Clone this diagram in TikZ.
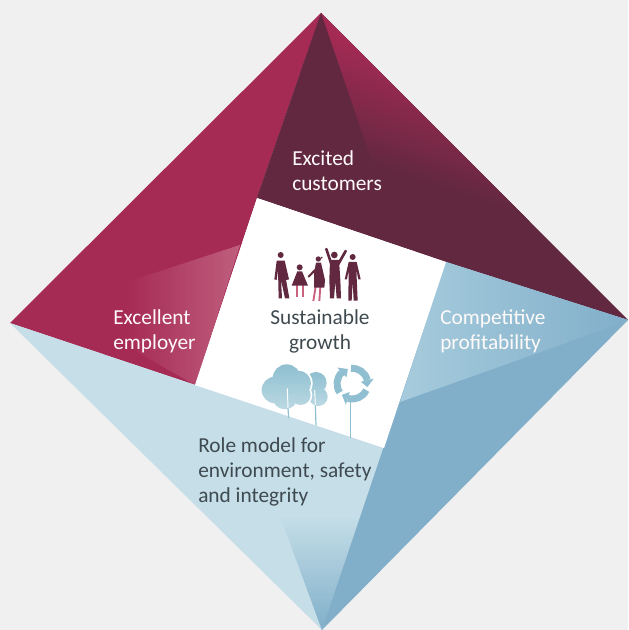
\documentclass[tikz,border=0pt]{standalone}
\usepackage{fontspec}
\setmainfont{Carlito}
\definecolor{bgc}{HTML}{F0F0F0}
\definecolor{redc}{HTML}{A52A54}
\definecolor{plum}{HTML}{622840}
\definecolor{pinkc}{HTML}{C05F7E}
\definecolor{legc}{HTML}{C9637F}
\definecolor{bluec}{HTML}{81AFCA}
\definecolor{lblue}{HTML}{C5DEE8}
\definecolor{midb}{HTML}{A6CBDC}
\definecolor{iconb}{HTML}{8FBFD0}
\definecolor{iconl}{HTML}{BBD9E3}
\definecolor{txtd}{HTML}{3F4A50}
\tikzset{
  lab/.style={font=\fontsize{16}{18.9}\selectfont,align=left,inner sep=0pt},
  labw/.style={lab,text=white!92!pink},
  person/.style={fill=plum,draw=none},
  legpink/.style={draw=legc,line width=1.4pt},
  arm/.style={draw=plum,line width=1.5pt,line cap=round},
  treef/.style={top color=iconb,bottom color=iconl,draw=none},
  stem/.style={draw=iconb,line width=.9pt},
  cycleseg/.style={draw=iconb,line width=5.2pt},
  cyct/.style={fill=iconb,draw=none}
}
\begin{document}
\begin{tikzpicture}[x=0.75pt,y=-0.75pt]
\useasboundingbox (0,0) rectangle (628,630);
\fill[bgc] (0,0) rectangle (628,630);
\coordinate (T) at (321,13);
\coordinate (L) at (10,323);
\coordinate (R) at (628,320);
\coordinate (B) at (322,630);
\coordinate (TL) at (257,198);
\coordinate (TR) at (446,262);
\coordinate (BR) at (384,448);
\coordinate (BL) at (195,385);
% red
\fill[redc] (T) -- (TL) -- (BL) -- (L) -- cycle;
\begin{scope}
  \clip (240,245) -- (BL) -- (125,345) -- (124,283) -- cycle;
  \foreach \i in {0,...,39}{
    \pgfmathsetmacro{\mix}{\i*100/39}
    \pgfmathsetmacro{\xa}{124+\i*3}
    \fill[pinkc!\mix!redc] (\xa,230) rectangle (\xa+5,400);
  }
\end{scope}
% plum
\fill[plum] (T) -- (R) -- (TR) -- (TL) -- cycle;
\begin{scope}
  \clip (T) -- (R) -- (TR) -- (TL) -- cycle;
  \fill[redc] (300,0) -- (640,0) -- (640,135) -- (300,23) -- cycle;
  \foreach \i in {0,...,40}{
    \pgfmathsetmacro{\mix}{100-\i*100/40}
    \pgfmathsetmacro{\ya}{\i*3+28}
    \fill[redc!\mix!plum] (300,\ya-7) -- (640,\ya+105) -- (640,\ya+110) -- (300,\ya-2) -- cycle;
  }
\end{scope}
\fill[plum] (T) -- (368,150) -- (382,215) -- (TL) -- cycle;
% light blue
\fill[lblue] (L) -- (BR) -- (B) -- cycle;
\begin{scope}
  \clip (B) -- (278,510) -- (372,500) -- cycle;
  \foreach \i in {0,...,38}{
    \pgfmathsetmacro{\mix}{\i*100/38}
    \pgfmathsetmacro{\ya}{515+\i*3}
    \fill[bluec!\mix!lblue] (270,\ya) rectangle (380,\ya+5);
  }
\end{scope}
% blue
\fill[bluec] (R) -- (TR) -- (B) -- cycle;
\shade[left color=midb,right color=bluec] (TR) -- (R) -- (552,348) -- (400,402) -- cycle;
% white
\fill[white] (TL) -- (TR) -- (BR) -- (BL) -- cycle;
% icons in zoom coordinates
\begin{scope}[shift={(190,190)},x=0.25pt,y=-0.25pt]
  % person 1
  \fill[person] (272,195) circle (9);
  \fill[person] (260,212) -- (284,212) -- (297,268) -- (289,270) -- (283,240) -- (298,325) -- (285,325) -- (273,270) -- (276,325) -- (266,325) -- (264,240) -- (260,270) -- (253,268) -- cycle;
  % child
  \fill[person] (329,232) circle (9);
  \draw[legpink] (321,285) -- (321,322);
  \draw[legpink] (338,285) -- (338,322);
  \fill[person] (322,244) -- (336,244) -- (354,287) -- (305,287) -- cycle;
  % woman
  \fill[person] (385,207) circle (8);
  \fill[person] (395,203) circle (3);
  \draw[legpink] (377,290) -- (370,333);
  \draw[legpink] (391,290) -- (388,333);
  \fill[person] (378,218) -- (393,218) -- (405,270) -- (403,293) -- (372,293) -- (372,250) -- cycle;
  \draw[arm] (375,240) -- (356,260);
  % raised arms
  \fill[person] (433,195) circle (10);
  \draw[arm,line width=2pt] (424,222) -- (409,177);
  \draw[arm,line width=2pt] (445,222) -- (467,183);
  \fill[person] (420,210) -- (447,210) -- (451,270) -- (453,325) -- (440,325) -- (436,275) -- (432,325) -- (420,325) -- (418,270) -- cycle;
  % person 5
  \fill[person] (488,201) circle (9);
  \fill[person] (476,216) -- (500,216) -- (512,268) -- (505,268) -- (499,240) -- (503,332) -- (491,332) -- (488,275) -- (485,332) -- (475,332) -- (476,240) -- (471,268) -- (464,268) -- cycle;
  % trees
  \shade[treef] (378,578) circle (32) (385,620) circle (28) (360,615) circle (20);
  \fill[white] (255,600) circle (45) (290,565) circle (47) (325,580) circle (43) (332,615) circle (35) (285,620) circle (43);
  \shade[treef] (255,600) circle (40) (290,565) circle (42) (325,580) circle (38) (332,615) circle (30) (285,620) circle (38);
  \draw[draw=white,line width=.7pt] (292,595) -- (294,655);
  \draw[draw=white,line width=.7pt] (374,600) -- (376,645);
  \draw[stem] (294,655) -- (296,684);
  \draw[stem] (376,645) -- (378,706);
  \draw[stem] (481,625) -- (481,745);
  % recycle
  \foreach \a in {-95,25,145}{
    \draw[cycleseg] ([shift={(487,581)}]\a:46) arc (\a:\a+82:46);
    \fill[cyct] ([shift={(487,581)}]\a+82:26) -- ([shift={(487,581)}]\a+82:66) -- ([shift={(487,581)}]\a+108:46) -- cycle;
  }
\end{scope}
% text
\node[labw,anchor=north west] (cust) at (292,150) {Excited\\customers};
\node[labw,anchor=north west] (empl) at (113,309) {Excellent\\employer};
\node[labw,anchor=north west] (comp) at (440,309) {Competitive\\profitability};
\node[lab,text=txtd,align=center,anchor=north] (grow) at (320,309) {Sustainable\\growth};
\node[lab,text=txtd,anchor=north west] (role) at (198,437) {Role model for\\environment, safety\\and integrity};
\end{tikzpicture}
\end{document}
